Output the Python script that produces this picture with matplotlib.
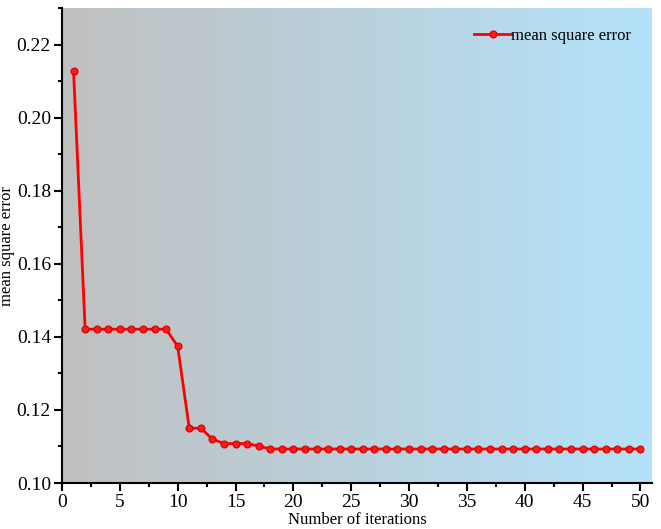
import numpy as np
import matplotlib.pyplot as plt

iterations = list(range(1, 51))
mse = ([0.2128] + [0.1421] * 8 + [0.1374, 0.1150, 0.1150, 0.1120,
       0.1108, 0.1108, 0.1108, 0.1101] + [0.1093] * 33)

plt.rcParams['font.family'] = ['Liberation Serif', 'DejaVu Serif']

fig = plt.figure(figsize=(6.61, 5.29), dpi=100)
ax = fig.add_axes([62 / 661, 46 / 529, 590 / 661, 475 / 529])

xlim = (0, 51)
ylim = (0.10, 0.23)

# horizontal grey -> light blue background
left = np.array([192, 192, 192]) / 255
right = np.array([180, 226, 250]) / 255
t = np.linspace(0, 1, 256)[None, :, None]
grad = left + (right - left) * t
ax.imshow(grad, extent=[xlim[0], xlim[1], ylim[0], ylim[1]],
          aspect='auto', zorder=0)

ax.plot(iterations, mse, color='#ff0000', lw=2, marker='o', ms=5,
        mfc='#ff1a1a', mec='#d00000', mew=0.8, label='mean square error',
        zorder=3)

ax.set_xlim(*xlim)
ax.set_ylim(*ylim)
ax.set_xticks(range(0, 51, 5))
ax.set_xticks(np.arange(2.5, 51, 5), minor=True)
ax.set_yticks(np.arange(0.10, 0.221, 0.02))
ax.set_yticks(np.arange(0.11, 0.231, 0.02), minor=True)
ax.set_yticklabels([f'{v:.2f}' for v in np.arange(0.10, 0.221, 0.02)])

for s in ['top', 'right']:
    ax.spines[s].set_visible(False)
for s in ['left', 'bottom']:
    ax.spines[s].set_linewidth(1.5)
ax.tick_params(which='major', direction='out', length=6, width=1.5,
               labelsize=14, pad=2)
ax.tick_params(which='minor', direction='out', length=3, width=1.5)

ax.set_xlabel('Number of iterations', fontsize=12)
ax.xaxis.set_label_coords(0.5, -0.062)
ax.set_ylabel('mean square error', fontsize=12)
ax.yaxis.set_label_coords(-0.080, 0.5)

ax.legend(loc='upper right', frameon=False, fontsize=12, handlelength=2.2,
          handletextpad=0.0, bbox_to_anchor=(0.99, 0.99))

fig.savefig('out.png', dpi=100)
